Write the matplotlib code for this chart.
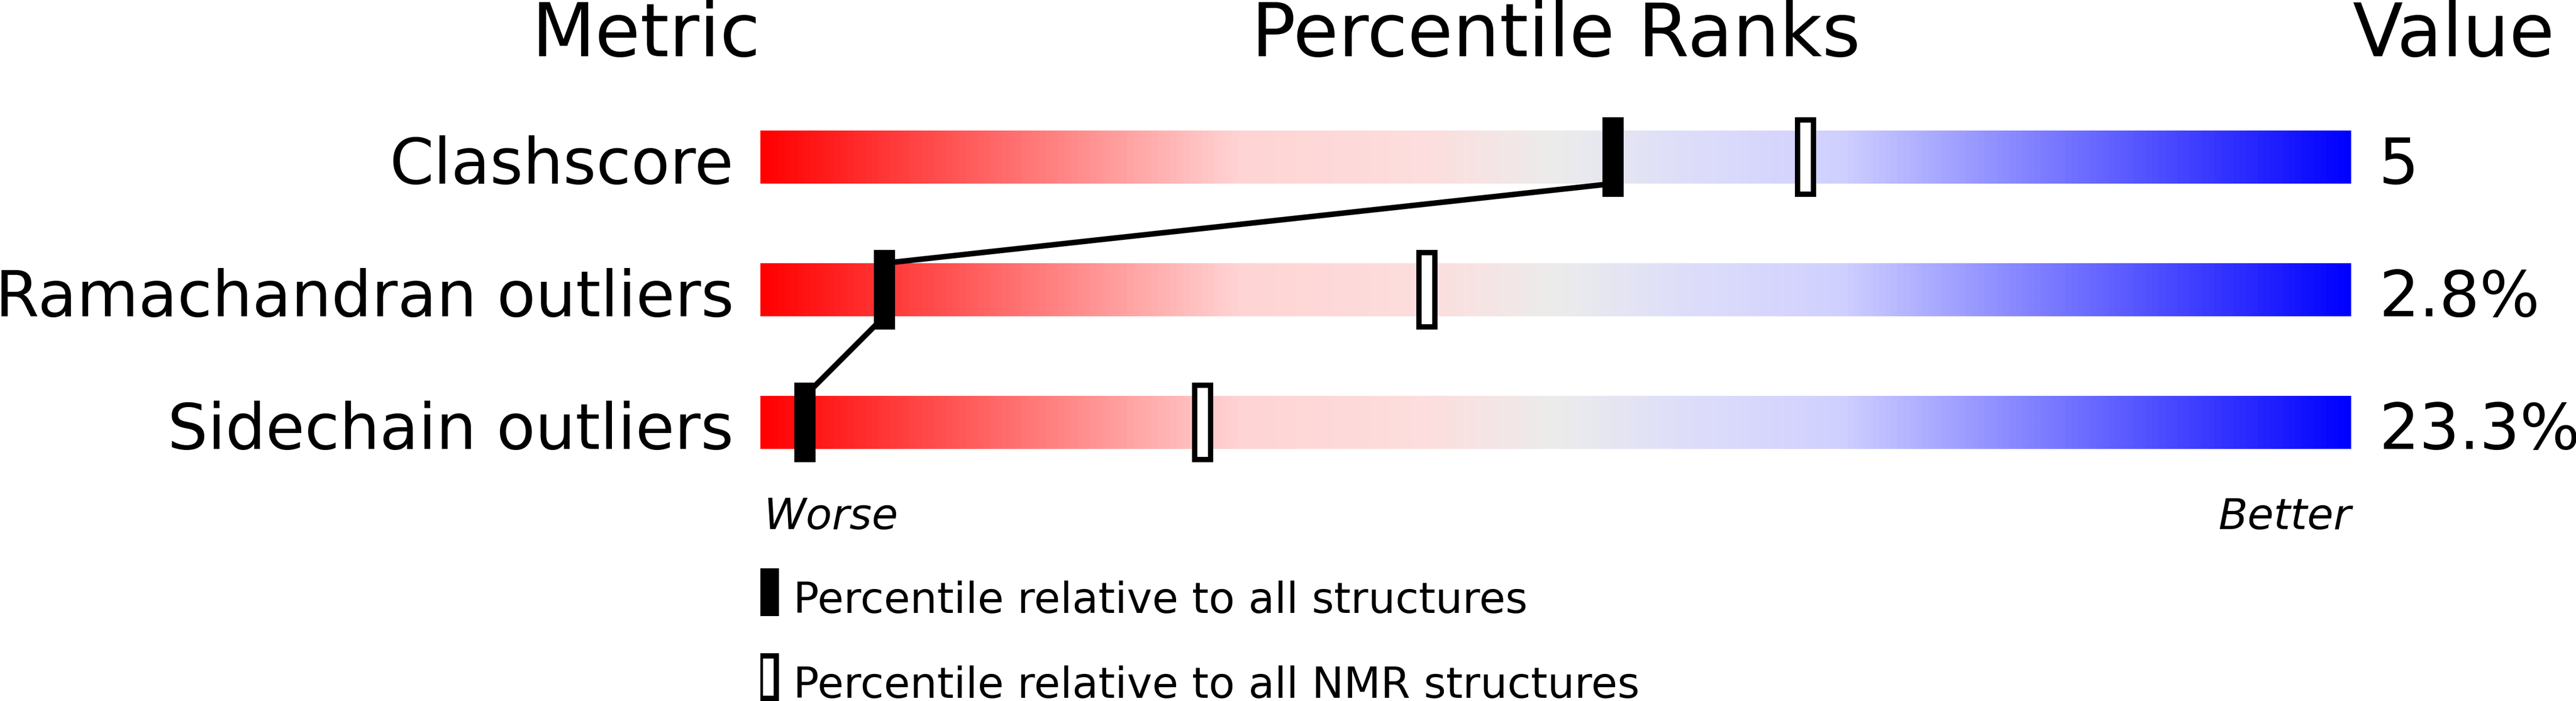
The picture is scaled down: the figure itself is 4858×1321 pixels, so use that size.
import numpy as np
import matplotlib
matplotlib.use("Agg")
import matplotlib.pyplot as plt
from matplotlib.colors import LinearSegmentedColormap
from matplotlib.patches import Rectangle

# ---- data ----
metrics = ["Clashscore", "Ramachandran outliers", "Sidechain outliers"]
values = ["5", "2.8%", "23.3%"]
pct_all = [53.6, 7.8, 2.8]
pct_nmr = [65.7, 41.9, 27.8]
legend_labels = ["Percentile relative to all structures",
                 "Percentile relative to all NMR structures"]

W, H, DPI = 4858, 1321, 100
fig = plt.figure(figsize=(W / DPI, H / DPI), dpi=DPI)
fig.patch.set_facecolor("white")

# axes spanning bar area horizontally, full height vertically
x0, bw = 1434, 3000
row_px = 250.0
first_center = 296.0
ax = fig.add_axes([x0 / W, 0, bw / W, 1])
ax.set_xlim(0, 100)
ax.set_ylim((H - first_center) / row_px, -first_center / row_px)
ax.axis("off")

cmap = LinearSegmentedColormap.from_list("slider", [
    (0.00, (1.0, 0.0, 0.0)),
    (0.30, (1.0, 212/255, 212/255)),
    (0.42, (253/255, 222/255, 222/255)),
    (0.50, (236/255, 236/255, 236/255)),
    (0.58, (222/255, 222/255, 250/255)),
    (0.68, (208/255, 208/255, 1.0)),
    (1.00, (0.0, 0.0, 1.0)),
])
grad = np.linspace(0, 1, 1024).reshape(1, -1)

bar_h = 0.4
mk_h = 0.6
mk_w = 40 / bw * 100
bd_x = 10 / bw * 100
bd_y = 10 / row_px

for i, (m, v) in enumerate(zip(metrics, values)):
    ax.imshow(grad, cmap=cmap, aspect="auto", interpolation="bilinear",
              extent=(0, 100, i + bar_h / 2, i - bar_h / 2), zorder=1)
    ax.text(-50 / bw * 100, i + bar_h / 2, m, ha="right", va="baseline",
            fontsize=86, family="DejaVu Sans")
    ax.text(100 + 52 / bw * 100, i + bar_h / 2, v, ha="left", va="baseline",
            fontsize=86, family="DejaVu Sans")

# connecting line between all-structure markers
for i in range(len(metrics) - 1):
    ax.plot([pct_all[i], pct_all[i + 1]],
            [i + bar_h / 2, i + 1 - bar_h / 2],
            color="black", lw=7.5, solid_capstyle="butt", zorder=2)

def open_marker(ax, xc, yc, w, h):
    ax.add_patch(Rectangle((xc - w / 2, yc - h / 2), w, h,
                           facecolor="black", edgecolor="none", zorder=3))
    ax.add_patch(Rectangle((xc - w / 2 + bd_x, yc - h / 2 + bd_y),
                           w - 2 * bd_x, h - 2 * bd_y,
                           facecolor="white", edgecolor="none", zorder=4))

for i in range(len(metrics)):
    ax.add_patch(Rectangle((pct_all[i] - mk_w / 2, i - mk_h / 2), mk_w, mk_h,
                           facecolor="black", edgecolor="none", zorder=3))
    open_marker(ax, pct_nmr[i], i, mk_w, mk_h)

# headers
hy = (106 - first_center) / row_px
ax.text(0, hy, "Metric", ha="right", va="baseline", fontsize=100)
ax.text(50, hy, "Percentile Ranks", ha="center", va="baseline", fontsize=100)
ax.text(100 + 3 / bw * 100, hy, "Value", ha="left", va="baseline", fontsize=100)

# worse / better
wy = (997 - first_center) / row_px
ax.text(6 / bw * 100, wy, "Worse", ha="left", va="baseline", fontsize=58,
        style="italic")
ax.text(100, wy, "Better", ha="right", va="baseline", fontsize=58,
        style="italic")

# legend
lg_h = 90 / row_px
lg_x = -5 / bw * 100
lg_tops = [(1071 - first_center) / row_px, (1231 - first_center) / row_px]
ax.add_patch(Rectangle((lg_x, lg_tops[0]), mk_w, lg_h,
                       facecolor="black", edgecolor="none", zorder=3))
open_marker(ax, lg_x + mk_w / 2, lg_tops[1] + lg_h / 2, mk_w, lg_h)
for t, lab in zip(lg_tops, legend_labels):
    ax.text(62 / bw * 100, t + lg_h - 6 / row_px, lab, ha="left",
            va="baseline", fontsize=58)

fig.savefig("out.png", dpi=DPI, facecolor="white")
